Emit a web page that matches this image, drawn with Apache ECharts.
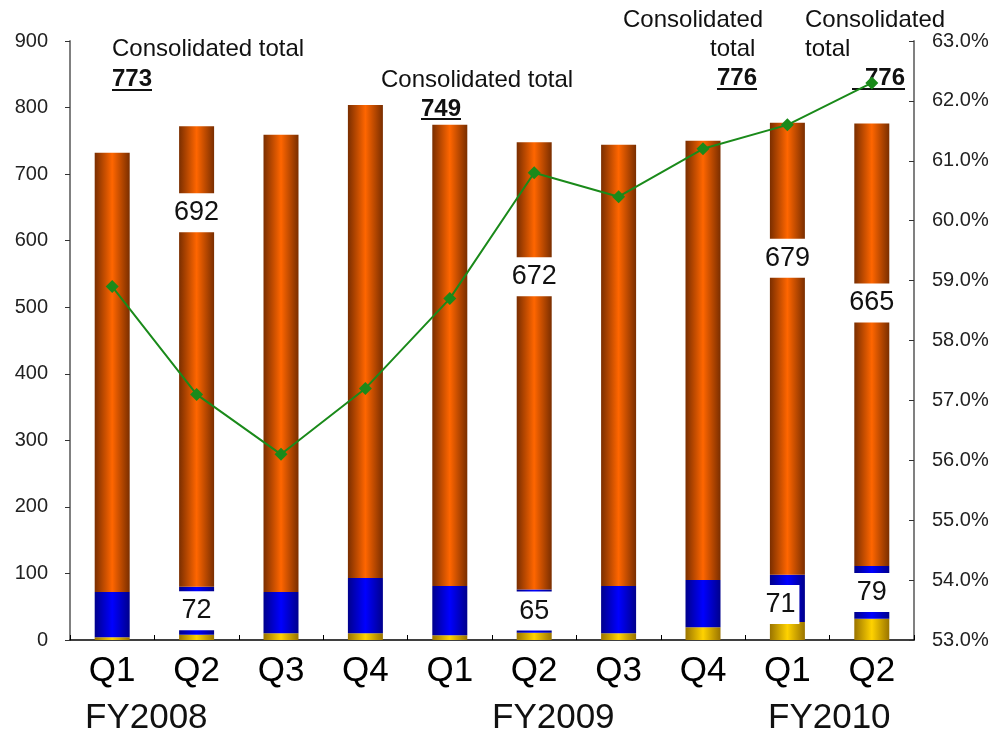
<!DOCTYPE html>
<html>
<head>
<meta charset="utf-8">
<script src="https://cdn.jsdelivr.net/npm/echarts@6/dist/echarts.min.js"></script>
<style>
  html, body { margin: 0; padding: 0; background: #fff; }
  #chart { width: 994px; height: 734px; }
</style>
</head>
<body>
<div id="chart"></div>
<script>
// quarters on the x axis
var quarters = ['Q1', 'Q2', 'Q3', 'Q4', 'Q1', 'Q2', 'Q3', 'Q4', 'Q1', 'Q2'];
// stacked segments, bottom to top
var yellowVals = [4, 8, 10, 10, 7, 11, 10, 19, 27, 32];
var blueVals   = [68, 72, 62, 83, 74, 65, 71, 71, 71, 79];
var orangeVals = [660, 692, 687, 711, 693, 672, 663, 660, 679, 665];
// ratio line (right axis, %)
var ratioVals  = [58.9, 57.1, 56.1, 57.2, 58.7, 60.8, 60.4, 61.2, 61.6, 62.3];
// bars that carry value labels
var labelledBars = [1, 5, 8, 9];

// label layout (px below orange top / offset of blue label)
var orangeLabelDrop = { 1: 67, 5: 115, 8: 116, 9: 160 };
var blueLabelOffset = { 1: [0, 0], 5: [0, 0], 8: [-7, 6], 9: [0, 0] };

var myEchart = echarts.init(document.getElementById('chart'));

function grad(edge, mid) {
    return new echarts.graphic.LinearGradient(0, 0, 1, 0, [
        { offset: 0, color: edge },
        { offset: 0.5, color: mid },
        { offset: 1, color: edge }
    ]);
}

var txtFont = 'Liberation Sans, Arial, sans-serif';

var boxLabel = {
    show: true,
    color: '#111',
    fontSize: 27,
    fontFamily: txtFont,
    backgroundColor: '#fff',
    padding: [6, 4, 6, 4]
};

var orangeData = orangeVals.map(function (v, i) {
    if (labelledBars.indexOf(i) < 0) return v;
    return {
        value: v,
        label: Object.assign({}, boxLabel, {
            position: ['50%', orangeLabelDrop[i]],
            align: 'center',
            verticalAlign: 'top'
        })
    };
});
var blueData = blueVals.map(function (v, i) {
    if (labelledBars.indexOf(i) < 0) return v;
    return {
        value: v,
        label: Object.assign({}, boxLabel, {
            position: 'inside',
            offset: blueLabelOffset[i]
        })
    };
});

function note(x, y, text, font) {
    return {
        type: 'text',
        x: x,
        y: y,
        style: {
            text: text,
            font: font || ('24px ' + txtFont),
            fill: '#111',
            textVerticalAlign: 'middle'
        }
    };
}
function uline(x1, x2, y) {
    return {
        type: 'line',
        shape: { x1: x1, y1: y, x2: x2, y2: y },
        style: { stroke: '#111', lineWidth: 2 }
    };
}
var boldFont = 'bold 24px ' + txtFont;
var yearFont = '35px ' + txtFont;

var option = {
    animation: false,
    grid: {
        left: 70,
        right: 80,
        top: 41,
        bottom: 94
    },
    xAxis: {
        type: 'category',
        data: quarters,
        axisLine: { lineStyle: { color: '#000', width: 1.5 } },
        axisTick: { show: true, inside: true, length: 5, lineStyle: { color: '#000' } },
        axisLabel: {
            color: '#000',
            fontSize: 35,
            fontFamily: txtFont,
            margin: 14
        }
    },
    yAxis: [{
        type: 'value',
        min: 0,
        max: 900,
        interval: 100,
        axisLine: { show: true, lineStyle: { color: '#808080', width: 2 } },
        axisTick: { show: true, length: 5, lineStyle: { color: '#333' } },
        splitLine: { show: false },
        axisLabel: {
            color: '#222',
            fontSize: 20,
            fontFamily: txtFont,
            margin: 22
        }
    }, {
        type: 'value',
        min: 53,
        max: 63,
        interval: 1,
        position: 'right',
        axisLine: { show: true, lineStyle: { color: '#808080', width: 2 } },
        axisTick: { show: true, inside: true, length: 5, lineStyle: { color: '#333' } },
        splitLine: { show: false },
        axisLabel: {
            color: '#222',
            fontSize: 20,
            fontFamily: txtFont,
            margin: 18,
            formatter: function (v) {
                return v.toFixed(1) + '%';
            }
        }
    }],
    graphic: [
        note(112, 49, 'Consolidated total'),
        note(112, 79, '773', boldFont),
        uline(112, 152, 90),
        note(381, 80, 'Consolidated total'),
        note(421, 109, '749', boldFont),
        uline(421, 461, 119),
        note(623, 20, 'Consolidated'),
        note(710, 49, 'total'),
        note(717, 78, '776', boldFont),
        uline(717, 757, 89),
        note(805, 20, 'Consolidated'),
        note(805, 49, 'total'),
        note(865, 78, '776', boldFont),
        uline(852, 905, 89),
        note(85, 718, 'FY2008', yearFont),
        note(492, 718, 'FY2009', yearFont),
        note(768, 718, 'FY2010', yearFont)
    ],
    series: [{
        name: 'Yellow',
        type: 'bar',
        stack: 'total',
        barWidth: 35,
        data: yellowVals,
        itemStyle: { color: grad('#9a7400', '#ffd200') }
    }, {
        name: 'Blue',
        type: 'bar',
        stack: 'total',
        barWidth: 35,
        data: blueData,
        itemStyle: { color: grad('#00008c', '#0000ff') }
    }, {
        name: 'Orange',
        type: 'bar',
        stack: 'total',
        barWidth: 35,
        data: orangeData,
        itemStyle: { color: grad('#7a2e00', '#ff6600') }
    }, {
        name: 'Ratio',
        type: 'line',
        yAxisIndex: 1,
        data: ratioVals,
        symbol: 'diamond',
        symbolSize: 13,
        z: 5,
        lineStyle: { color: '#1a8a1a', width: 2 },
        itemStyle: { color: '#1a8a1a' }
    }]
};
myEchart.setOption(option);
</script>
</body>
</html>
